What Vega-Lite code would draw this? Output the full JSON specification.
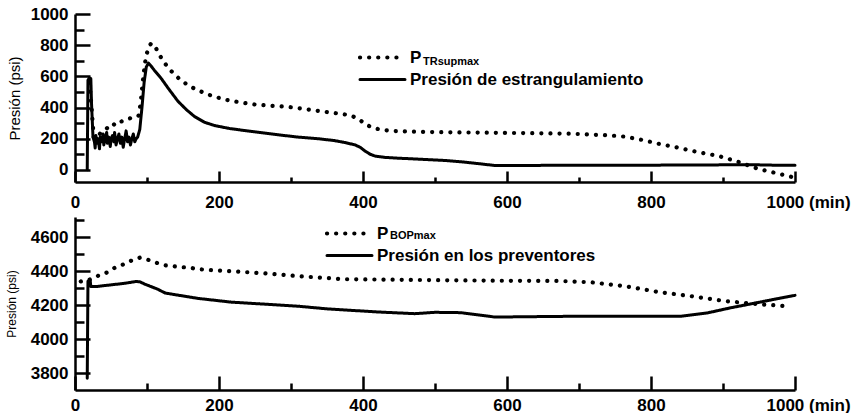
{
  "$schema": "https://vega.github.io/schema/vega-lite/v6.json",
  "background": "white",
  "padding": {"left": 5, "top": 5, "right": 0, "bottom": 0},
  "spacing": 35,
  "bounds": "flush",
  "config": {
    "view": {"stroke": null},
    "font": "Liberation Sans",
    "axis": {
      "grid": false,
      "domainColor": "black",
      "domainWidth": 2.5,
      "tickColor": "black",
      "tickWidth": 2.5,
      "labelFont": "Liberation Sans",
      "labelFontSize": 17,
      "labelFontWeight": "bold",
      "labelColor": "black",
      "labelFlush": false,
      "labelOverlap": false,
      "labelBound": false,
      "titleFont": "Liberation Sans",
      "titleFontWeight": "normal",
      "titleColor": "black"
    },
    "legend": {"labelLimit": 0}
  },
  "resolve": {
    "scale": {"strokeDash": "independent", "opacity": "independent", "strokeWidth": "independent"},
    "legend": {"strokeDash": "independent", "opacity": "independent"}
  },
  "datasets": {
    "top": [
      {"t": 17, "p": 0, "series": "Presión de estrangulamiento", "sub": "none"},
      {"t": 18, "p": 575, "series": "Presión de estrangulamiento", "sub": "none"},
      {"t": 20, "p": 590, "series": "Presión de estrangulamiento", "sub": "none"},
      {"t": 22, "p": 585, "series": "Presión de estrangulamiento", "sub": "none"},
      {"t": 23, "p": 420, "series": "Presión de estrangulamiento", "sub": "none"},
      {"t": 25, "p": 210, "series": "Presión de estrangulamiento", "sub": "none"},
      {"t": 27, "p": 180, "series": "Presión de estrangulamiento", "sub": "none"},
      {"t": 28, "p": 140, "series": "Presión de estrangulamiento", "sub": "none"},
      {"t": 29, "p": 220, "series": "Presión de estrangulamiento", "sub": "none"},
      {"t": 31, "p": 170, "series": "Presión de estrangulamiento", "sub": "none"},
      {"t": 32, "p": 200, "series": "Presión de estrangulamiento", "sub": "none"},
      {"t": 34, "p": 135, "series": "Presión de estrangulamiento", "sub": "none"},
      {"t": 35, "p": 210, "series": "Presión de estrangulamiento", "sub": "none"},
      {"t": 37, "p": 180, "series": "Presión de estrangulamiento", "sub": "none"},
      {"t": 39, "p": 230, "series": "Presión de estrangulamiento", "sub": "none"},
      {"t": 40, "p": 160, "series": "Presión de estrangulamiento", "sub": "none"},
      {"t": 42, "p": 200, "series": "Presión de estrangulamiento", "sub": "none"},
      {"t": 44, "p": 240, "series": "Presión de estrangulamiento", "sub": "none"},
      {"t": 45, "p": 170, "series": "Presión de estrangulamiento", "sub": "none"},
      {"t": 47, "p": 210, "series": "Presión de estrangulamiento", "sub": "none"},
      {"t": 49, "p": 150, "series": "Presión de estrangulamiento", "sub": "none"},
      {"t": 50, "p": 200, "series": "Presión de estrangulamiento", "sub": "none"},
      {"t": 52, "p": 220, "series": "Presión de estrangulamiento", "sub": "none"},
      {"t": 54, "p": 180, "series": "Presión de estrangulamiento", "sub": "none"},
      {"t": 55, "p": 240, "series": "Presión de estrangulamiento", "sub": "none"},
      {"t": 57, "p": 160, "series": "Presión de estrangulamiento", "sub": "none"},
      {"t": 59, "p": 200, "series": "Presión de estrangulamiento", "sub": "none"},
      {"t": 61, "p": 230, "series": "Presión de estrangulamiento", "sub": "none"},
      {"t": 63, "p": 170, "series": "Presión de estrangulamiento", "sub": "none"},
      {"t": 65, "p": 210, "series": "Presión de estrangulamiento", "sub": "none"},
      {"t": 67, "p": 145, "series": "Presión de estrangulamiento", "sub": "none"},
      {"t": 69, "p": 200, "series": "Presión de estrangulamiento", "sub": "none"},
      {"t": 71, "p": 250, "series": "Presión de estrangulamiento", "sub": "none"},
      {"t": 73, "p": 180, "series": "Presión de estrangulamiento", "sub": "none"},
      {"t": 75, "p": 210, "series": "Presión de estrangulamiento", "sub": "none"},
      {"t": 77, "p": 160, "series": "Presión de estrangulamiento", "sub": "none"},
      {"t": 79, "p": 200, "series": "Presión de estrangulamiento", "sub": "none"},
      {"t": 81, "p": 230, "series": "Presión de estrangulamiento", "sub": "none"},
      {"t": 83, "p": 180, "series": "Presión de estrangulamiento", "sub": "none"},
      {"t": 85, "p": 200, "series": "Presión de estrangulamiento", "sub": "none"},
      {"t": 87, "p": 210, "series": "Presión de estrangulamiento", "sub": "none"},
      {"t": 90, "p": 260, "series": "Presión de estrangulamiento", "sub": "none"},
      {"t": 93, "p": 400, "series": "Presión de estrangulamiento", "sub": "none"},
      {"t": 96, "p": 560, "series": "Presión de estrangulamiento", "sub": "none"},
      {"t": 99, "p": 660, "series": "Presión de estrangulamiento", "sub": "none"},
      {"t": 102, "p": 685, "series": "Presión de estrangulamiento", "sub": "none"},
      {"t": 105, "p": 670, "series": "Presión de estrangulamiento", "sub": "none"},
      {"t": 110, "p": 640, "series": "Presión de estrangulamiento", "sub": "none"},
      {"t": 120, "p": 585, "series": "Presión de estrangulamiento", "sub": "none"},
      {"t": 130, "p": 520, "series": "Presión de estrangulamiento", "sub": "none"},
      {"t": 143, "p": 440, "series": "Presión de estrangulamiento", "sub": "none"},
      {"t": 155, "p": 385, "series": "Presión de estrangulamiento", "sub": "none"},
      {"t": 166, "p": 342, "series": "Presión de estrangulamiento", "sub": "none"},
      {"t": 180, "p": 305, "series": "Presión de estrangulamiento", "sub": "none"},
      {"t": 194, "p": 284, "series": "Presión de estrangulamiento", "sub": "none"},
      {"t": 215, "p": 265, "series": "Presión de estrangulamiento", "sub": "none"},
      {"t": 236, "p": 252, "series": "Presión de estrangulamiento", "sub": "none"},
      {"t": 260, "p": 238, "series": "Presión de estrangulamiento", "sub": "none"},
      {"t": 282, "p": 225, "series": "Presión de estrangulamiento", "sub": "none"},
      {"t": 310, "p": 210, "series": "Presión de estrangulamiento", "sub": "none"},
      {"t": 337, "p": 200, "series": "Presión de estrangulamiento", "sub": "none"},
      {"t": 360, "p": 188, "series": "Presión de estrangulamiento", "sub": "none"},
      {"t": 375, "p": 175, "series": "Presión de estrangulamiento", "sub": "none"},
      {"t": 389, "p": 160, "series": "Presión de estrangulamiento", "sub": "none"},
      {"t": 396, "p": 145, "series": "Presión de estrangulamiento", "sub": "none"},
      {"t": 403, "p": 120, "series": "Presión de estrangulamiento", "sub": "none"},
      {"t": 410, "p": 100, "series": "Presión de estrangulamiento", "sub": "none"},
      {"t": 417, "p": 88, "series": "Presión de estrangulamiento", "sub": "none"},
      {"t": 430, "p": 80, "series": "Presión de estrangulamiento", "sub": "none"},
      {"t": 444, "p": 76, "series": "Presión de estrangulamiento", "sub": "none"},
      {"t": 480, "p": 68, "series": "Presión de estrangulamiento", "sub": "none"},
      {"t": 514, "p": 60, "series": "Presión de estrangulamiento", "sub": "none"},
      {"t": 540, "p": 50, "series": "Presión de estrangulamiento", "sub": "none"},
      {"t": 560, "p": 40, "series": "Presión de estrangulamiento", "sub": "none"},
      {"t": 583, "p": 28, "series": "Presión de estrangulamiento", "sub": "none"},
      {"t": 620, "p": 28, "series": "Presión de estrangulamiento", "sub": "none"},
      {"t": 700, "p": 30, "series": "Presión de estrangulamiento", "sub": "none"},
      {"t": 800, "p": 30, "series": "Presión de estrangulamiento", "sub": "none"},
      {"t": 900, "p": 32, "series": "Presión de estrangulamiento", "sub": "none"},
      {"t": 940, "p": 33, "series": "Presión de estrangulamiento", "sub": "none"},
      {"t": 970, "p": 30, "series": "Presión de estrangulamiento", "sub": "none"},
      {"t": 1000, "p": 30, "series": "Presión de estrangulamiento", "sub": "none"},
      {"t": 20, "p": 560, "series": "P_TRsupmax", "sub": "TRsupmax"},
      {"t": 23, "p": 400, "series": "P_TRsupmax", "sub": "TRsupmax"},
      {"t": 26, "p": 210, "series": "P_TRsupmax", "sub": "TRsupmax"},
      {"t": 28, "p": 200, "series": "P_TRsupmax", "sub": "TRsupmax"},
      {"t": 32, "p": 215, "series": "P_TRsupmax", "sub": "TRsupmax"},
      {"t": 36, "p": 240, "series": "P_TRsupmax", "sub": "TRsupmax"},
      {"t": 40, "p": 250, "series": "P_TRsupmax", "sub": "TRsupmax"},
      {"t": 44, "p": 265, "series": "P_TRsupmax", "sub": "TRsupmax"},
      {"t": 48, "p": 285, "series": "P_TRsupmax", "sub": "TRsupmax"},
      {"t": 52, "p": 280, "series": "P_TRsupmax", "sub": "TRsupmax"},
      {"t": 56, "p": 300, "series": "P_TRsupmax", "sub": "TRsupmax"},
      {"t": 60, "p": 295, "series": "P_TRsupmax", "sub": "TRsupmax"},
      {"t": 64, "p": 310, "series": "P_TRsupmax", "sub": "TRsupmax"},
      {"t": 68, "p": 315, "series": "P_TRsupmax", "sub": "TRsupmax"},
      {"t": 72, "p": 320, "series": "P_TRsupmax", "sub": "TRsupmax"},
      {"t": 76, "p": 330, "series": "P_TRsupmax", "sub": "TRsupmax"},
      {"t": 80, "p": 335, "series": "P_TRsupmax", "sub": "TRsupmax"},
      {"t": 84, "p": 340, "series": "P_TRsupmax", "sub": "TRsupmax"},
      {"t": 88, "p": 345, "series": "P_TRsupmax", "sub": "TRsupmax"},
      {"t": 91, "p": 420, "series": "P_TRsupmax", "sub": "TRsupmax"},
      {"t": 94, "p": 560, "series": "P_TRsupmax", "sub": "TRsupmax"},
      {"t": 97, "p": 680, "series": "P_TRsupmax", "sub": "TRsupmax"},
      {"t": 100, "p": 750, "series": "P_TRsupmax", "sub": "TRsupmax"},
      {"t": 103, "p": 795, "series": "P_TRsupmax", "sub": "TRsupmax"},
      {"t": 106, "p": 812, "series": "P_TRsupmax", "sub": "TRsupmax"},
      {"t": 110, "p": 800, "series": "P_TRsupmax", "sub": "TRsupmax"},
      {"t": 115, "p": 760, "series": "P_TRsupmax", "sub": "TRsupmax"},
      {"t": 120, "p": 716, "series": "P_TRsupmax", "sub": "TRsupmax"},
      {"t": 127, "p": 670, "series": "P_TRsupmax", "sub": "TRsupmax"},
      {"t": 134, "p": 632, "series": "P_TRsupmax", "sub": "TRsupmax"},
      {"t": 147, "p": 574, "series": "P_TRsupmax", "sub": "TRsupmax"},
      {"t": 160, "p": 535, "series": "P_TRsupmax", "sub": "TRsupmax"},
      {"t": 171, "p": 510, "series": "P_TRsupmax", "sub": "TRsupmax"},
      {"t": 190, "p": 475, "series": "P_TRsupmax", "sub": "TRsupmax"},
      {"t": 208, "p": 451, "series": "P_TRsupmax", "sub": "TRsupmax"},
      {"t": 230, "p": 432, "series": "P_TRsupmax", "sub": "TRsupmax"},
      {"t": 250, "p": 419, "series": "P_TRsupmax", "sub": "TRsupmax"},
      {"t": 270, "p": 412, "series": "P_TRsupmax", "sub": "TRsupmax"},
      {"t": 292, "p": 406, "series": "P_TRsupmax", "sub": "TRsupmax"},
      {"t": 315, "p": 393, "series": "P_TRsupmax", "sub": "TRsupmax"},
      {"t": 333, "p": 381, "series": "P_TRsupmax", "sub": "TRsupmax"},
      {"t": 355, "p": 368, "series": "P_TRsupmax", "sub": "TRsupmax"},
      {"t": 375, "p": 355, "series": "P_TRsupmax", "sub": "TRsupmax"},
      {"t": 385, "p": 345, "series": "P_TRsupmax", "sub": "TRsupmax"},
      {"t": 393, "p": 329, "series": "P_TRsupmax", "sub": "TRsupmax"},
      {"t": 400, "p": 305, "series": "P_TRsupmax", "sub": "TRsupmax"},
      {"t": 407, "p": 284, "series": "P_TRsupmax", "sub": "TRsupmax"},
      {"t": 415, "p": 268, "series": "P_TRsupmax", "sub": "TRsupmax"},
      {"t": 425, "p": 258, "series": "P_TRsupmax", "sub": "TRsupmax"},
      {"t": 440, "p": 250, "series": "P_TRsupmax", "sub": "TRsupmax"},
      {"t": 467, "p": 245, "series": "P_TRsupmax", "sub": "TRsupmax"},
      {"t": 500, "p": 242, "series": "P_TRsupmax", "sub": "TRsupmax"},
      {"t": 560, "p": 239, "series": "P_TRsupmax", "sub": "TRsupmax"},
      {"t": 620, "p": 236, "series": "P_TRsupmax", "sub": "TRsupmax"},
      {"t": 689, "p": 232, "series": "P_TRsupmax", "sub": "TRsupmax"},
      {"t": 717, "p": 226, "series": "P_TRsupmax", "sub": "TRsupmax"},
      {"t": 740, "p": 222, "series": "P_TRsupmax", "sub": "TRsupmax"},
      {"t": 764, "p": 213, "series": "P_TRsupmax", "sub": "TRsupmax"},
      {"t": 790, "p": 190, "series": "P_TRsupmax", "sub": "TRsupmax"},
      {"t": 810, "p": 168, "series": "P_TRsupmax", "sub": "TRsupmax"},
      {"t": 835, "p": 145, "series": "P_TRsupmax", "sub": "TRsupmax"},
      {"t": 856, "p": 123, "series": "P_TRsupmax", "sub": "TRsupmax"},
      {"t": 875, "p": 105, "series": "P_TRsupmax", "sub": "TRsupmax"},
      {"t": 893, "p": 90, "series": "P_TRsupmax", "sub": "TRsupmax"},
      {"t": 921, "p": 52, "series": "P_TRsupmax", "sub": "TRsupmax"},
      {"t": 949, "p": 6, "series": "P_TRsupmax", "sub": "TRsupmax"},
      {"t": 972, "p": -19, "series": "P_TRsupmax", "sub": "TRsupmax"},
      {"t": 995, "p": -45, "series": "P_TRsupmax", "sub": "TRsupmax"}
    ],
    "bottom": [
      {"t": 17, "p": 3770, "series": "Presión en los preventores", "sub": "none"},
      {"t": 18, "p": 4341, "series": "Presión en los preventores", "sub": "none"},
      {"t": 21, "p": 4350, "series": "Presión en los preventores", "sub": "none"},
      {"t": 22, "p": 4310, "series": "Presión en los preventores", "sub": "none"},
      {"t": 30, "p": 4310, "series": "Presión en los preventores", "sub": "none"},
      {"t": 46, "p": 4318, "series": "Presión en los preventores", "sub": "none"},
      {"t": 69, "p": 4329, "series": "Presión en los preventores", "sub": "none"},
      {"t": 85, "p": 4340, "series": "Presión en los preventores", "sub": "none"},
      {"t": 90, "p": 4338, "series": "Presión en los preventores", "sub": "none"},
      {"t": 97, "p": 4324, "series": "Presión en los preventores", "sub": "none"},
      {"t": 115, "p": 4294, "series": "Presión en los preventores", "sub": "none"},
      {"t": 125, "p": 4272, "series": "Presión en los preventores", "sub": "none"},
      {"t": 139, "p": 4262, "series": "Presión en los preventores", "sub": "none"},
      {"t": 171, "p": 4240, "series": "Presión en los preventores", "sub": "none"},
      {"t": 217, "p": 4218, "series": "Presión en los preventores", "sub": "none"},
      {"t": 264, "p": 4206, "series": "Presión en los preventores", "sub": "none"},
      {"t": 310, "p": 4194, "series": "Presión en los preventores", "sub": "none"},
      {"t": 351, "p": 4178, "series": "Presión en los preventores", "sub": "none"},
      {"t": 421, "p": 4160, "series": "Presión en los preventores", "sub": "none"},
      {"t": 472, "p": 4150, "series": "Presión en los preventores", "sub": "none"},
      {"t": 500, "p": 4158, "series": "Presión en los preventores", "sub": "none"},
      {"t": 536, "p": 4156, "series": "Presión en los preventores", "sub": "none"},
      {"t": 569, "p": 4138, "series": "Presión en los preventores", "sub": "none"},
      {"t": 583, "p": 4130, "series": "Presión en los preventores", "sub": "none"},
      {"t": 650, "p": 4133, "series": "Presión en los preventores", "sub": "none"},
      {"t": 700, "p": 4135, "series": "Presión en los preventores", "sub": "none"},
      {"t": 760, "p": 4135, "series": "Presión en los preventores", "sub": "none"},
      {"t": 842, "p": 4135, "series": "Presión en los preventores", "sub": "none"},
      {"t": 879, "p": 4155, "series": "Presión en los preventores", "sub": "none"},
      {"t": 911, "p": 4185, "series": "Presión en los preventores", "sub": "none"},
      {"t": 949, "p": 4216, "series": "Presión en los preventores", "sub": "none"},
      {"t": 975, "p": 4238, "series": "Presión en los preventores", "sub": "none"},
      {"t": 1000, "p": 4258, "series": "Presión en los preventores", "sub": "none"},
      {"t": 8, "p": 4340, "series": "P_BOPmax", "sub": "BOPmax"},
      {"t": 14, "p": 4345, "series": "P_BOPmax", "sub": "BOPmax"},
      {"t": 22, "p": 4353, "series": "P_BOPmax", "sub": "BOPmax"},
      {"t": 30, "p": 4370, "series": "P_BOPmax", "sub": "BOPmax"},
      {"t": 43, "p": 4390, "series": "P_BOPmax", "sub": "BOPmax"},
      {"t": 55, "p": 4420, "series": "P_BOPmax", "sub": "BOPmax"},
      {"t": 62, "p": 4430, "series": "P_BOPmax", "sub": "BOPmax"},
      {"t": 76, "p": 4459, "series": "P_BOPmax", "sub": "BOPmax"},
      {"t": 90, "p": 4480, "series": "P_BOPmax", "sub": "BOPmax"},
      {"t": 100, "p": 4470, "series": "P_BOPmax", "sub": "BOPmax"},
      {"t": 111, "p": 4453, "series": "P_BOPmax", "sub": "BOPmax"},
      {"t": 125, "p": 4435, "series": "P_BOPmax", "sub": "BOPmax"},
      {"t": 140, "p": 4428, "series": "P_BOPmax", "sub": "BOPmax"},
      {"t": 161, "p": 4420, "series": "P_BOPmax", "sub": "BOPmax"},
      {"t": 171, "p": 4412, "series": "P_BOPmax", "sub": "BOPmax"},
      {"t": 217, "p": 4400, "series": "P_BOPmax", "sub": "BOPmax"},
      {"t": 264, "p": 4388, "series": "P_BOPmax", "sub": "BOPmax"},
      {"t": 310, "p": 4371, "series": "P_BOPmax", "sub": "BOPmax"},
      {"t": 375, "p": 4353, "series": "P_BOPmax", "sub": "BOPmax"},
      {"t": 450, "p": 4350, "series": "P_BOPmax", "sub": "BOPmax"},
      {"t": 514, "p": 4347, "series": "P_BOPmax", "sub": "BOPmax"},
      {"t": 600, "p": 4344, "series": "P_BOPmax", "sub": "BOPmax"},
      {"t": 671, "p": 4343, "series": "P_BOPmax", "sub": "BOPmax"},
      {"t": 717, "p": 4335, "series": "P_BOPmax", "sub": "BOPmax"},
      {"t": 764, "p": 4312, "series": "P_BOPmax", "sub": "BOPmax"},
      {"t": 810, "p": 4278, "series": "P_BOPmax", "sub": "BOPmax"},
      {"t": 856, "p": 4253, "series": "P_BOPmax", "sub": "BOPmax"},
      {"t": 903, "p": 4224, "series": "P_BOPmax", "sub": "BOPmax"},
      {"t": 949, "p": 4206, "series": "P_BOPmax", "sub": "BOPmax"},
      {"t": 990, "p": 4194, "series": "P_BOPmax", "sub": "BOPmax"}
    ]
  },
  "vconcat": [
    {
      "width": 720,
      "height": 168,
      "data": {"name": "top"},
      "mark": {"type": "line", "color": "black", "strokeCap": "round", "strokeJoin": "round"},
      "encoding": {
        "x": {
          "field": "t", "type": "quantitative",
          "scale": {"domain": [0, 1000], "nice": false, "zero": false},
          "axis": {
            "values": [0, 100, 200, 300, 400, 500, 600, 700, 800, 900, 1000],
            "format": "d",
            "labelExpr": "datum.value % 200 === 0 ? (datum.value === 1000 ? '1000 (min)' : datum.label) : ''",
            "labelAlign": {"condition": {"test": "datum.value === 1000", "value": "left"}, "value": "center"},
            "labelOffset": {"condition": {"test": "datum.value === 1000", "value": -29}, "value": 0},
            "tickSize": -11,
            "tickDash": {"condition": {"test": "datum.value % 200 === 0", "value": [1, 0]}, "value": [5, 40]},
            "labelPadding": 23,
            "title": null
          }
        },
        "y": {
          "field": "p", "type": "quantitative",
          "scale": {"domain": [-78, 1000], "nice": false, "zero": false},
          "axis": {
            "values": [0, 100, 200, 300, 400, 500, 600, 700, 800, 900, 1000],
            "format": "d",
            "labelExpr": "datum.value % 200 === 0 ? datum.label : ''",
            "tickSize": -15,
            "tickDash": {"condition": {"test": "datum.value % 200 === 0", "value": [1, 0]}, "value": [9, 40]},
            "labelPadding": 22,
            "title": "Presión (psi)",
            "titleFontSize": 15,
            "titlePadding": 8
          }
        },
        "strokeWidth": {
          "field": "series", "type": "nominal",
          "scale": {"domain": ["P_TRsupmax", "Presión de estrangulamiento"], "range": [4.2, 3]},
          "legend": null
        },
        "strokeDash": {
          "field": "series", "type": "nominal",
          "scale": {"domain": ["P_TRsupmax", "Presión de estrangulamiento"], "range": [[0.1, 9], [1, 0]]},
          "legend": {
            "orient": "none", "legendX": 281, "legendY": 35,
            "title": null,
            "symbolType": "M-5,0H5", "symbolSize": 81, "symbolOffset": 18, "symbolStrokeWidth": 3.5, "symbolStrokeColor": "black",
            "labelFont": "Liberation Sans", "labelFontSize": 17, "labelFontWeight": "bold", "labelColor": "black",
            "labelOffset": 19, "rowPadding": 4,
            "labelExpr": "datum.label === 'P_TRsupmax' ? 'P' : datum.label",
            "encode": {"symbols": {"update": {"strokeCap": {"value": "round"}}}}
          }
        },
        "opacity": {
          "field": "sub", "type": "nominal",
          "scale": {"domain": ["TRsupmax", "none"], "range": [1, 1]},
          "legend": {
            "orient": "none", "legendX": 337, "legendY": 42,
            "title": null,
            "symbolType": "circle", "symbolSize": 0, "symbolStrokeWidth": 0,
            "symbolFillColor": "transparent", "symbolStrokeColor": "transparent", "symbolOpacity": 0,
            "labelFont": "Liberation Sans", "labelFontSize": 11, "labelFontWeight": "bold", "labelColor": "black",
            "labelOffset": 0,
            "labelExpr": "datum.label === 'none' ? '' : datum.label"
          }
        }
      }
    },
    {
      "width": 720,
      "height": 173,
      "data": {"name": "bottom"},
      "mark": {"type": "line", "color": "black", "strokeCap": "round", "strokeJoin": "round"},
      "encoding": {
        "x": {
          "field": "t", "type": "quantitative",
          "scale": {"domain": [0, 1000], "nice": false, "zero": false},
          "axis": {
            "values": [0, 100, 200, 300, 400, 500, 600, 700, 800, 900, 1000],
            "format": "d",
            "labelExpr": "datum.value % 200 === 0 ? (datum.value === 1000 ? '1000 (min)' : datum.label) : ''",
            "labelAlign": {"condition": {"test": "datum.value === 1000", "value": "left"}, "value": "center"},
            "labelOffset": {"condition": {"test": "datum.value === 1000", "value": -29}, "value": 0},
            "tickSize": -14,
            "tickDash": {"condition": {"test": "datum.value % 200 === 0", "value": [1, 0]}, "value": [7, 40]},
            "labelPadding": 21,
            "title": null
          }
        },
        "y": {
          "field": "p", "type": "quantitative",
          "scale": {"domain": [3700, 4720], "nice": false, "zero": false},
          "axis": {
            "values": [3800, 3900, 4000, 4100, 4200, 4300, 4400, 4500, 4600, 4700],
            "format": "d",
            "labelExpr": "datum.value % 200 === 0 ? datum.label : ''",
            "tickSize": -15,
            "tickDash": {"condition": {"test": "datum.value % 200 === 0", "value": [1, 0]}, "value": [9, 40]},
            "labelPadding": 22,
            "title": "Presión (psi)",
            "titleFontSize": 12,
            "titlePadding": 12
          }
        },
        "strokeWidth": {
          "field": "series", "type": "nominal",
          "scale": {"domain": ["P_BOPmax", "Presión en los preventores"], "range": [4.2, 3]},
          "legend": null
        },
        "strokeDash": {
          "field": "series", "type": "nominal",
          "scale": {"domain": ["P_BOPmax", "Presión en los preventores"], "range": [[0.1, 9], [1, 0]]},
          "legend": {
            "orient": "none", "legendX": 248, "legendY": 8,
            "title": null,
            "symbolType": "M-5,0H5", "symbolSize": 81, "symbolOffset": 18, "symbolStrokeWidth": 3.5, "symbolStrokeColor": "black",
            "labelFont": "Liberation Sans", "labelFontSize": 17, "labelFontWeight": "bold", "labelColor": "black",
            "labelOffset": 19, "rowPadding": 4,
            "labelExpr": "datum.label === 'P_BOPmax' ? 'P' : datum.label",
            "encode": {"symbols": {"update": {"strokeCap": {"value": "round"}}}}
          }
        },
        "opacity": {
          "field": "sub", "type": "nominal",
          "scale": {"domain": ["BOPmax", "none"], "range": [1, 1]},
          "legend": {
            "orient": "none", "legendX": 304, "legendY": 13,
            "title": null,
            "symbolType": "circle", "symbolSize": 0, "symbolStrokeWidth": 0,
            "symbolFillColor": "transparent", "symbolStrokeColor": "transparent", "symbolOpacity": 0,
            "labelFont": "Liberation Sans", "labelFontSize": 11, "labelFontWeight": "bold", "labelColor": "black",
            "labelOffset": 0,
            "labelExpr": "datum.label === 'none' ? '' : datum.label"
          }
        }
      }
    }
  ]
}
